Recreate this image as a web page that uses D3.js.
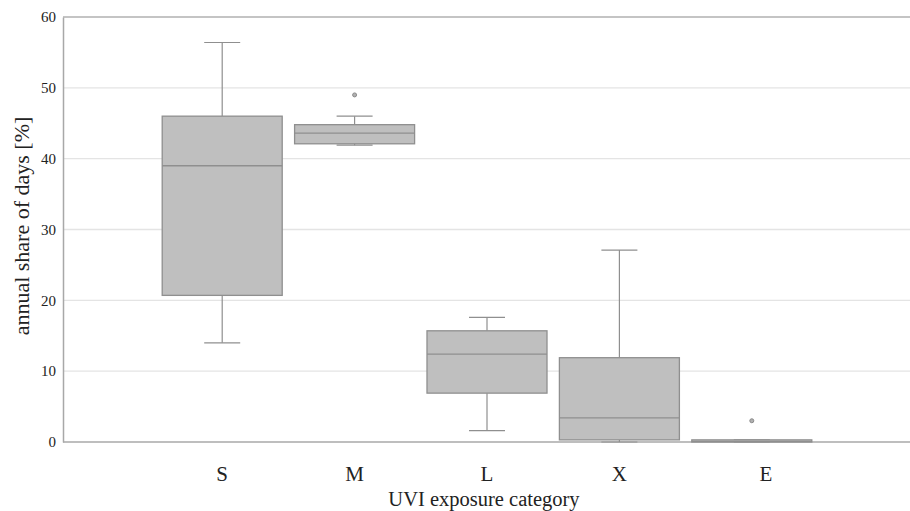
<!DOCTYPE html>
<html>
<head>
<meta charset="utf-8">
<style>
  body { margin: 0; background: #fff; }
  text { font-family: "Liberation Serif", "DejaVu Serif", serif; fill: #222; }
</style>
</head>
<body>
<svg width="910" height="511"></svg>
<script src="https://d3js.org/d3.v7.min.js"></script>
<script>

// box plot values
var categories = ["S", "M", "L", "X", "E"];
var whiskerLow  = [14.0, 41.9, 1.6, 0.0, 0.0];
var q1          = [20.7, 42.1, 6.9, 0.3, 0.0];
var median      = [39.0, 43.6, 12.4, 3.4, 0.1];
var q3          = [46.0, 44.8, 15.7, 11.9, 0.3];
var whiskerHigh = [56.4, 46.0, 17.6, 27.1, 0.3];
var outliers    = [[], [49.0], [], [], [3.0]];
var yTicks = [0, 10, 20, 30, 40, 50, 60];

var svg = d3.select("svg"),
    margin = {top: 17, right: 0, bottom: 69, left: 63},
    width = +svg.attr("width") - margin.left - margin.right,
    height = +svg.attr("height") - margin.top - margin.bottom,
    g = svg.append("g").attr("transform", "translate(" + margin.left + "," + margin.top + ")");

var x = d3.scaleBand().domain(categories).range([93, 755]);
var y = d3.scaleLinear().domain([0, 60]).range([height, 0]);

var boxW = 120, capW = 36;

// gridlines
g.append("g")
    .selectAll("line")
    .data(yTicks.slice(1, -1))
    .enter().append("line")
      .attr("x1", 0).attr("x2", width)
      .attr("y1", function(d) { return y(d); })
      .attr("y2", function(d) { return y(d); })
      .attr("stroke", "#e4e4e4")
      .attr("stroke-width", 1.3);

// top frame line
g.append("line")
    .attr("x1", 0).attr("x2", width)
    .attr("y1", 0).attr("y2", 0)
    .attr("stroke", "#b0b0b0")
    .attr("stroke-width", 1.5);

var yAxis = g.append("g")
    .call(d3.axisLeft(y).tickValues(yTicks).tickSize(0).tickPadding(7));
yAxis.select(".domain").attr("stroke", "#a8a8a8").attr("stroke-width", 1.5);
yAxis.selectAll("text").attr("font-size", "15px").attr("fill", "#222")
    .attr("font-family", "Liberation Serif, serif");

var xAxis = g.append("g")
    .attr("transform", "translate(0," + height + ")")
    .call(d3.axisBottom(x).tickSize(0).tickPadding(24));
xAxis.select(".domain").attr("d", "M0,0H" + width).attr("stroke", "#a8a8a8").attr("stroke-width", 1.5);
xAxis.selectAll("text").attr("font-size", "21px").attr("fill", "#222")
    .attr("font-family", "Liberation Serif, serif")
    .attr("dx", function(d) { return d === "E" ? 14 : 0; });

var boxes = g.selectAll(".box")
    .data(categories)
    .enter().append("g")
      .attr("class", "box")
      .attr("transform", function(d) { return "translate(" + (x(d) + x.bandwidth() / 2) + ",0)"; });

var stroke = "#8f8f8f";

// whiskers
boxes.append("line")
    .attr("x1", 0).attr("x2", 0)
    .attr("y1", function(d, i) { return y(whiskerHigh[i]); })
    .attr("y2", function(d, i) { return y(q3[i]); })
    .attr("stroke", stroke).attr("stroke-width", 1.2);
boxes.append("line")
    .attr("x1", 0).attr("x2", 0)
    .attr("y1", function(d, i) { return y(q1[i]); })
    .attr("y2", function(d, i) { return y(whiskerLow[i]); })
    .attr("stroke", stroke).attr("stroke-width", 1.2);
boxes.append("line")
    .attr("x1", -capW / 2).attr("x2", capW / 2)
    .attr("y1", function(d, i) { return y(whiskerHigh[i]); })
    .attr("y2", function(d, i) { return y(whiskerHigh[i]); })
    .attr("stroke", stroke).attr("stroke-width", 1.2);
boxes.append("line")
    .attr("x1", -capW / 2).attr("x2", capW / 2)
    .attr("y1", function(d, i) { return y(whiskerLow[i]); })
    .attr("y2", function(d, i) { return y(whiskerLow[i]); })
    .attr("stroke", stroke).attr("stroke-width", 1.2);

// boxes
boxes.append("rect")
    .attr("x", -boxW / 2)
    .attr("width", boxW)
    .attr("y", function(d, i) { return y(q3[i]); })
    .attr("height", function(d, i) { return Math.max(1, y(q1[i]) - y(q3[i])); })
    .attr("fill", "#bfbfbf")
    .attr("stroke", stroke)
    .attr("stroke-width", 1.3);

// medians
boxes.append("line")
    .attr("x1", -boxW / 2).attr("x2", boxW / 2)
    .attr("y1", function(d, i) { return y(median[i]); })
    .attr("y2", function(d, i) { return y(median[i]); })
    .attr("stroke", stroke).attr("stroke-width", 1.3);

// outliers
boxes.selectAll("circle")
    .data(function(d, i) { return outliers[i]; })
    .enter().append("circle")
      .attr("cx", 0)
      .attr("cy", function(d) { return y(d); })
      .attr("r", 2)
      .attr("fill", "#b0b0b0")
      .attr("stroke", "#8a8a8a")
      .attr("stroke-width", 1);

// axis titles
svg.append("text")
    .attr("transform", "translate(29,226) rotate(-90)")
    .attr("text-anchor", "middle")
    .attr("font-size", "22px")
    .text("annual share of days [%]");

svg.append("text")
    .attr("x", 484)
    .attr("y", 506)
    .attr("text-anchor", "middle")
    .attr("font-size", "20.5px")
    .text("UVI exposure category");

</script>
</body>
</html>
